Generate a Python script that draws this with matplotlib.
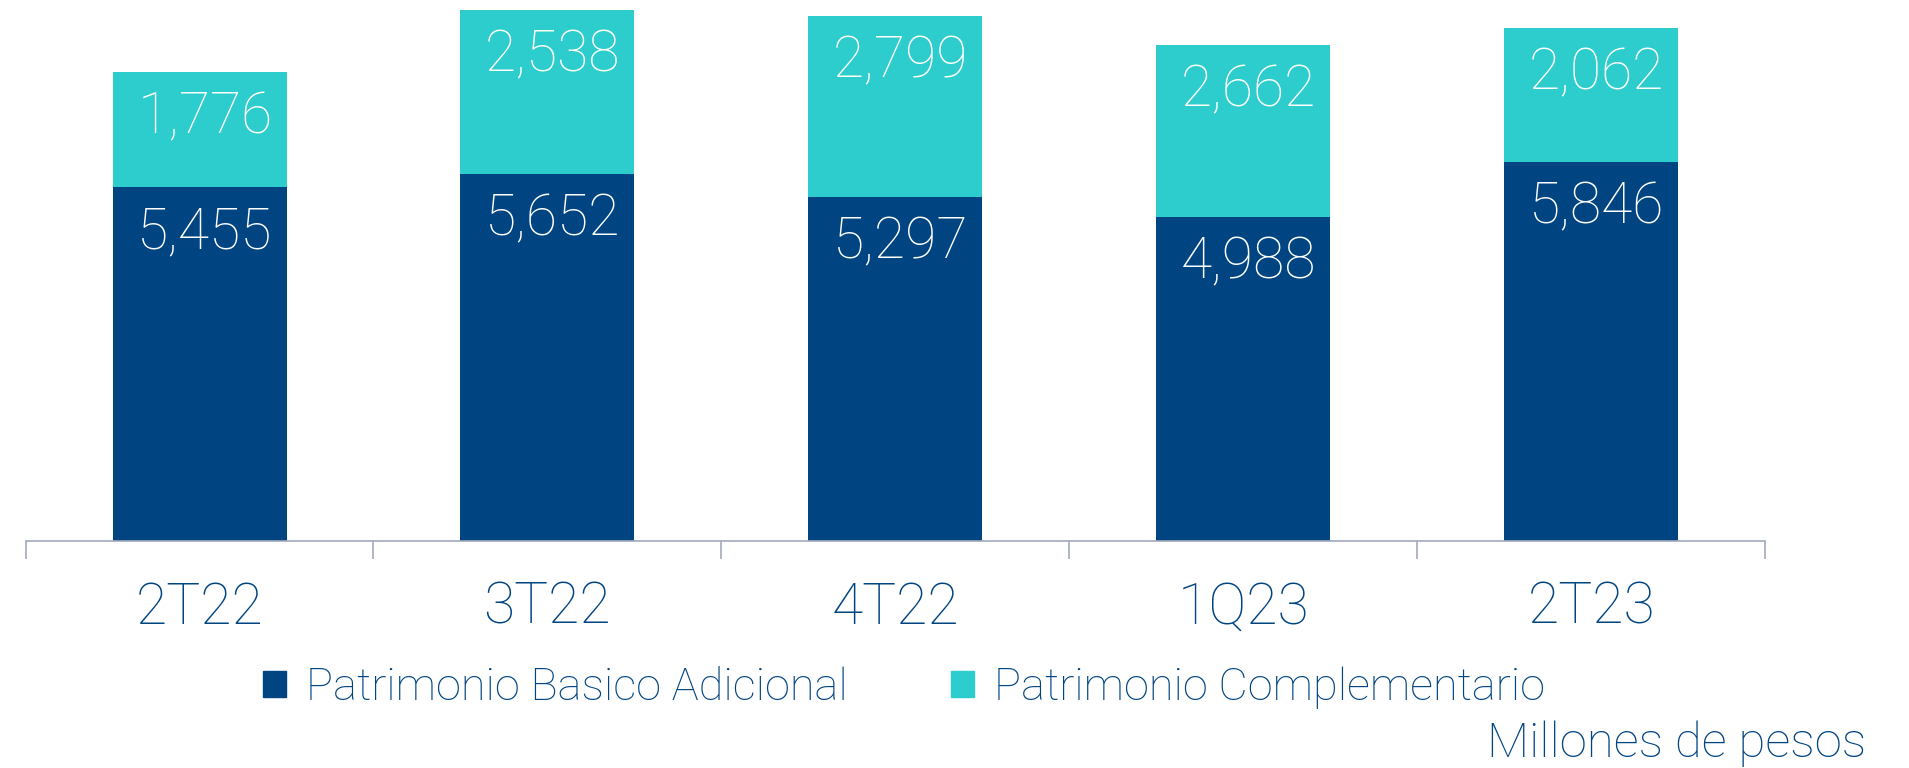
import matplotlib
matplotlib.use('Agg')
import matplotlib.pyplot as plt
from matplotlib.patches import Patch

plt.rcParams['font.family'] = ['Roboto', 'DejaVu Sans']
plt.rcParams['font.weight'] = 'light'

periods = ['2T22', '3T22', '4T22', '1Q23', '2T23']
basico = [5455, 5652, 5297, 4988, 5846]
complementario = [1776, 2538, 2799, 2662, 2062]
series_names = ['Patrimonio Basico Adicional', 'Patrimonio Complementario']
unit_note = 'Millones de pesos'

navy = '#004481'
aqua = '#2DCCCD'
axis_grey = '#A3A9BD'

fig = plt.figure(figsize=(19.09, 7.68), dpi=100)
ax = fig.add_axes([0.0134, 0.296, 0.9112, 0.704])

x = list(range(len(periods)))
bars_b = ax.bar(x, basico, width=0.5, color=navy)
bars_c = ax.bar(x, complementario, width=0.5, bottom=basico, color=aqua)

for bars in (bars_b, bars_c):
    for rect in bars:
        top = rect.get_y() + rect.get_height()
        ax.annotate(f'{int(rect.get_height()):,}',
                    (rect.get_x() + rect.get_width() / 2, top),
                    xytext=(4, -33), textcoords='offset points',
                    ha='center', va='center', color='white', fontsize=41)

ax.set_xlim(-0.5, len(periods) - 0.5)
ax.set_ylim(0, 8343)

for side in ('top', 'right', 'left'):
    ax.spines[side].set_visible(False)
ax.spines['bottom'].set_color(axis_grey)
ax.spines['bottom'].set_linewidth(1.2)
ax.set_yticks([])

ax.set_xticks(x)
ax.set_xticklabels(periods, fontsize=41, color=navy)
ax.tick_params(axis='x', which='major', length=0, pad=29)
ax.set_xticks([i - 0.5 for i in range(len(periods) + 1)], minor=True)
ax.tick_params(axis='x', which='minor', length=13, width=1.2, color=axis_grey)

handles = [Patch(color=navy), Patch(color=aqua)]
fig.legend(handles, series_names, loc='center', bbox_to_anchor=(0.4736, 0.104),
           ncol=2, frameon=False, fontsize=32.5, labelcolor=navy,
           handlelength=0.5, handleheight=0.5, handletextpad=0.45, columnspacing=2.3)

fig.text(0.9775, 0.032, unit_note, ha='right', va='center', fontsize=35.5, color=navy)

fig.savefig('out.png', dpi=100)
